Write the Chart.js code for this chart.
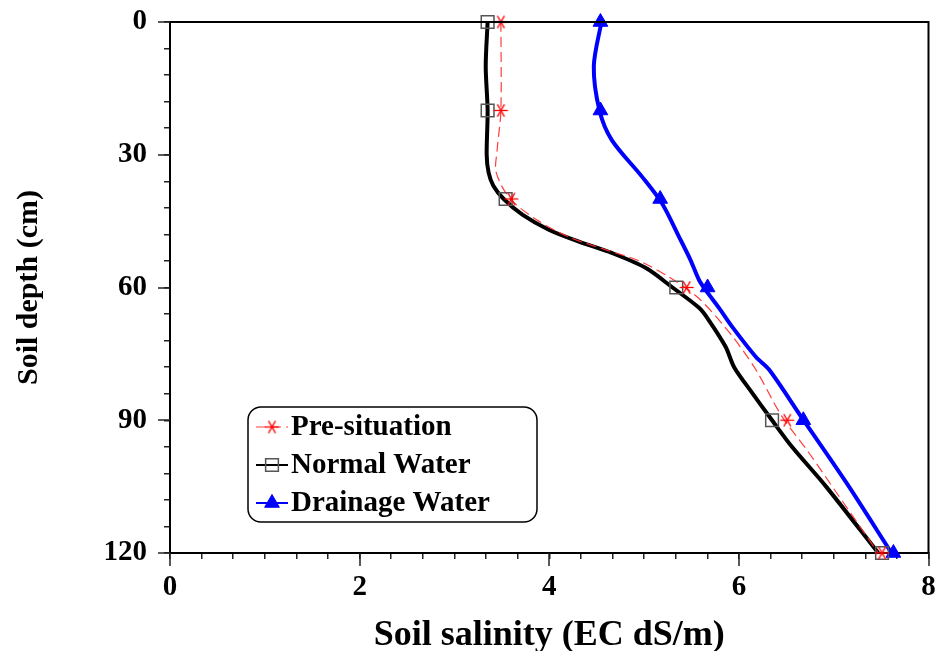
<!DOCTYPE html>
<html>
<head>
<meta charset="utf-8">
<script src="https://cdn.jsdelivr.net/npm/chart.js@4.4.1/dist/chart.umd.min.js"></script>
<style>
  html, body { margin: 0; padding: 0; background: #fff; }
  #chartSalinity { display: block; }
</style>
</head>
<body>
<canvas id="chartSalinity" width="939" height="651"></canvas>
<script>
// measured points (markers)
var markerDepths = [0, 20, 40, 60, 90, 120];
var preSituation = [3.49, 3.49, 3.60, 5.45, 6.51, 7.51];
var normalWater = [3.35, 3.35, 3.54, 5.34, 6.35, 7.51];
var drainageWater = [4.54, 4.54, 5.17, 5.67, 6.68, 7.63];

// smoothed curves
var preCurveDepth = [0, 20, 29, 34, 40, 45, 48.6, 51.5, 54, 57.6, 62.5, 71, 78.6, 89, 97.4, 107, 120];
var preCurveEC = [3.49, 3.49, 3.45, 3.44, 3.59, 3.89, 4.21, 4.60, 4.95, 5.26, 5.58, 5.93, 6.18, 6.45, 6.74, 7.05, 7.47];

var normalCurveDepth = [0, 10, 20, 30, 34, 37, 40, 43.6, 47, 49.7, 52.2, 55.6, 60, 64.6, 67.3, 73.4, 78, 83.8, 90, 96, 105, 120];
var normalCurveEC = [3.35, 3.33, 3.35, 3.34, 3.36, 3.41, 3.52, 3.72, 4.00, 4.32, 4.66, 5.02, 5.30, 5.58, 5.68, 5.86, 5.95, 6.14, 6.35, 6.56, 6.92, 7.47];

var drainCurveDepth = [0, 10, 20, 26.7, 35, 41, 48.6, 53.8, 58.3, 60.6, 64.6, 68.9, 75.7, 78.6, 89.3, 104, 120];
var drainCurveEC = [4.55, 4.47, 4.53, 4.66, 4.98, 5.19, 5.37, 5.49, 5.58, 5.65, 5.79, 5.93, 6.18, 6.32, 6.66, 7.13, 7.61];

var seriesNames = ["Pre-situation", "Normal Water", "Drainage Water"];

// axis ticks
var xTickLabels = [0, 2, 4, 6, 8];
var yTickLabels = [0, 30, 60, 90, 120];
var xMinorPerMajor = 6;
var yMinorPerMajor = 5;

var fontFace = "'Liberation Serif', 'Times New Roman', serif";

function toPoints(xs, ys) {
	var pts = [];
	for (var i in xs) {
		pts.push({x: xs[i], y: ys[i]});
	}
	return pts;
}

function buildTicks(labels, perMajor) {
	var ticks = [];
	for (var m = 0; m < labels.length; m++) {
		if (m == labels.length - 1) {
			ticks.push({value: labels[m], major: true});
			break;
		}
		var step = (labels[m + 1] - labels[m]) / perMajor;
		for (var j = 0; j < perMajor; j++) {
			ticks.push({value: labels[m] + j * step, major: j == 0});
		}
	}
	return ticks;
}

// six-spoke asterisk used for the pre-situation points
function makeStar(color) {
	var c = document.createElement('canvas');
	c.width = 17; c.height = 17;
	var g = c.getContext('2d');
	g.strokeStyle = color;
	g.lineWidth = 1.3;
	var angles = [0, 60, 120];
	for (var i in angles) {
		var a = angles[i] * Math.PI / 180;
		g.beginPath();
		g.moveTo(8.5 - 7 * Math.cos(a), 8.5 - 7 * Math.sin(a));
		g.lineTo(8.5 + 7 * Math.cos(a), 8.5 + 7 * Math.sin(a));
		g.stroke();
	}
	return c;
}
var starImg = makeStar('#ff0000');

// box around the plot + long major ticks
var framePlugin = {
	id: 'frame',
	afterDraw: function(chart) {
		var ctx = chart.ctx;
		var area = chart.chartArea;
		ctx.save();
		ctx.strokeStyle = '#000';
		ctx.lineWidth = 2;
		ctx.beginPath();
		ctx.moveTo(area.left, area.top);
		ctx.lineTo(area.right, area.top);
		ctx.lineTo(area.right, area.bottom);
		ctx.stroke();

		ctx.strokeStyle = '#222';
		ctx.lineWidth = 1.5;
		var xs = chart.scales.x, ys = chart.scales.y;
		xs.ticks.forEach(function(t) {
			if (!t.major) return;
			var px = Math.round(xs.getPixelForValue(t.value));
			ctx.beginPath();
			ctx.moveTo(px, area.bottom);
			ctx.lineTo(px, area.bottom + 13);
			ctx.stroke();
		});
		ys.ticks.forEach(function(t) {
			if (!t.major) return;
			var py = Math.round(ys.getPixelForValue(t.value));
			ctx.beginPath();
			ctx.moveTo(area.left - 12, py);
			ctx.lineTo(area.left, py);
			ctx.stroke();
		});
		ctx.restore();
	}
};

// legend box like the original (line sample + marker + text)
var legendPlugin = {
	id: 'boxLegend',
	afterDraw: function(chart) {
		var ctx = chart.ctx;
		var box = {x: 248, y: 407, w: 289, h: 115, r: 13};
		ctx.save();
		ctx.fillStyle = '#fff';
		ctx.strokeStyle = '#000';
		ctx.lineWidth = 1.5;
		ctx.beginPath();
		ctx.roundRect(box.x, box.y, box.w, box.h, box.r);
		ctx.fill();
		ctx.stroke();

		var rows = [
			{ds: chart.data.datasets[3], mk: chart.data.datasets[0]},
			{ds: chart.data.datasets[4], mk: chart.data.datasets[1]},
			{ds: chart.data.datasets[5], mk: chart.data.datasets[2]}
		];
		for (var i = 0; i < rows.length; i++) {
			var cy = 427 + i * 38;
			var line = rows[i].ds, mk = rows[i].mk;
			ctx.strokeStyle = line.borderColor;
			ctx.lineWidth = Math.min(line.borderWidth, 2);
			ctx.setLineDash(line.borderDash || []);
			ctx.beginPath();
			ctx.moveTo(256, cy);
			ctx.lineTo(288, cy);
			ctx.stroke();
			ctx.setLineDash([]);
			ctx.fillStyle = mk.backgroundColor;
			ctx.strokeStyle = mk.borderColor;
			ctx.lineWidth = mk.borderWidth;
			Chart.helpers.drawPoint(ctx, {
				pointStyle: mk.pointStyle,
				radius: mk.pointRadius,
				rotation: 0,
				borderWidth: mk.borderWidth
			}, 272, cy);
			ctx.fillStyle = '#000';
			ctx.font = 'bold 29px ' + fontFace;
			ctx.textBaseline = 'middle';
			ctx.textAlign = 'left';
			ctx.fillText(mk.label, 291, cy + 1);
		}
		ctx.restore();
	}
};

var ctx = document.getElementById('chartSalinity').getContext('2d');

var chart = new Chart(ctx, {
	type: 'scatter',
	data: {
		datasets: [
			{
				label: seriesNames[0],
				data: toPoints(preSituation, markerDepths),
				pointStyle: starImg,
				pointRadius: 7,
				backgroundColor: 'rgba(0,0,0,0)',
				borderColor: '#ff0000',
				borderWidth: 1.3,
				showLine: false,
				clip: false,
				order: 0
			},
			{
				label: seriesNames[1],
				data: toPoints(normalWater, markerDepths),
				pointStyle: 'rect',
				pointRadius: 9,
				backgroundColor: 'rgba(0,0,0,0)',
				borderColor: '#555',
				borderWidth: 1.5,
				showLine: false,
				clip: false,
				order: 0
			},
			{
				label: seriesNames[2],
				data: toPoints(drainageWater, markerDepths),
				pointStyle: 'triangle',
				pointRadius: 8.5,
				backgroundColor: '#0000ff',
				borderColor: '#0000ff',
				borderWidth: 1,
				showLine: false,
				clip: false,
				order: 0
			},
			{
				label: seriesNames[0] + ' curve',
				data: toPoints(preCurveEC, preCurveDepth),
				showLine: true,
				pointRadius: 0,
				borderColor: 'rgba(255,40,40,0.9)',
				borderWidth: 1.2,
				borderDash: [10, 5],
				tension: 0.3,
				clip: false,
				order: 1
			},
			{
				label: seriesNames[1] + ' curve',
				data: toPoints(normalCurveEC, normalCurveDepth),
				showLine: true,
				pointRadius: 0,
				borderColor: '#000',
				borderWidth: 4,
				tension: 0.3,
				clip: false,
				order: 1
			},
			{
				label: seriesNames[2] + ' curve',
				data: toPoints(drainCurveEC, drainCurveDepth),
				showLine: true,
				pointRadius: 0,
				borderColor: '#0000ff',
				borderWidth: 4,
				tension: 0.3,
				clip: false,
				order: 1
			}
		]
	},
	options: {
		responsive: false,
		animation: false,
		devicePixelRatio: 1,
		layout: {padding: {left: 0, top: 22, right: 9, bottom: 0}},
		plugins: {
			legend: {display: false},
			tooltip: {enabled: false}
		},
		scales: {
			x: {
				type: 'linear',
				position: 'bottom',
				min: 0,
				max: 8,
				afterBuildTicks: function(s) { s.ticks = buildTicks(xTickLabels, xMinorPerMajor); },
				afterFit: function(s) {
					s.height = 98;
					s.paddingLeft = 0; s.paddingRight = 0;
				},
				ticks: {
					autoSkip: false,
					maxRotation: 0,
					padding: 11,
					color: '#000',
					font: {family: fontFace, size: 29, weight: 'bold'},
					callback: function(v, i, t) { return t[i].major ? String(v) : ''; }
				},
				grid: {drawOnChartArea: false, drawTicks: true, tickLength: 6, color: '#222', lineWidth: 1.5},
				border: {display: true, color: '#000', width: 2},
				title: {
					display: true,
					text: 'Soil salinity (EC dS/m)',
					color: '#000',
					font: {family: fontFace, size: 36, weight: 'bold', lineHeight: 0.85},
					padding: {top: 0, bottom: 0}
				}
			},
			y: {
				type: 'linear',
				position: 'left',
				reverse: true,
				min: 0,
				max: 120,
				afterBuildTicks: function(s) { s.ticks = buildTicks(yTickLabels, yMinorPerMajor); },
				afterFit: function(s) {
					s.width = 170;
					s.paddingTop = 0; s.paddingBottom = 0;
				},
				ticks: {
					autoSkip: false,
					padding: 17,
					color: '#000',
					font: {family: fontFace, size: 29, weight: 'bold'},
					callback: function(v, i, t) { return t[i].major ? String(v) : ''; }
				},
				grid: {drawOnChartArea: false, drawTicks: true, tickLength: 6, color: '#222', lineWidth: 1.5},
				border: {display: true, color: '#000', width: 2},
				title: {
					display: true,
					text: 'Soil depth (cm)',
					color: '#000',
					font: {family: fontFace, size: 30, weight: 'bold', lineHeight: 1},
					padding: {top: 14, bottom: 0}
				}
			}
		}
	},
	plugins: [framePlugin, legendPlugin]
});
</script>
</body>
</html>
